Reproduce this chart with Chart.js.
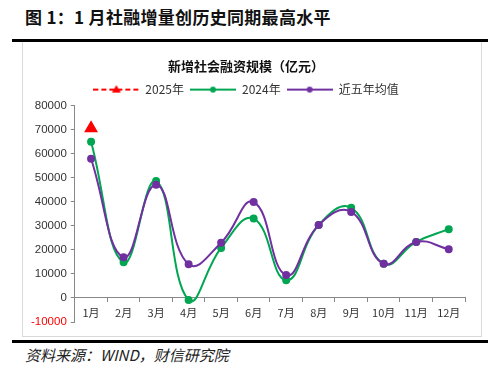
<!DOCTYPE html>
<html>
<head>
<meta charset="utf-8">
<script src="https://cdn.jsdelivr.net/npm/chart.js@4"></script>
<style>
    body { margin: 0; background: #fff; width: 500px; height: 377px; position: relative; overflow: hidden; }
    .fig-title { position: absolute; left: 25px; top: 4px; font: bold 17px "Noto Sans CJK SC", sans-serif; color: #111; letter-spacing: 0.3px; }
    .rule { position: absolute; left: 12px; width: 476px; height: 3px; background: #000; }
    .box { position: absolute; left: 22px; top: 42px; width: 460px; height: 295px; border: 1px solid #d9d9d9; border-top: none; box-sizing: border-box; }
    .source { position: absolute; left: 25px; top: 344px; font: italic 15px "Noto Sans CJK SC", serif; color: #222; }
    #wrap { position: absolute; left: 23px; top: 43px; width: 458px; height: 293px; }
</style>
</head>
<body>
<div class="fig-title">图 1：1 月社融增量创历史同期最高水平</div>
<div class="rule" style="top:39px"></div>
<div class="box"></div>
<div class="rule" style="top:340px"></div>
<div class="source">资料来源：WIND，财信研究院</div>
<div id="wrap"><canvas id="tsfChart"></canvas></div>

<script>
// Data (亿元)
const months = ['1月', '2月', '3月', '4月', '5月', '6月', '7月', '8月', '9月', '10月', '11月', '12月'];
const tsf2025 = [70600, null, null, null, null, null, null, null, null, null, null, null];
const tsf2024 = [65000, 14800, 48600, -800, 20800, 33000, 7400, 30300, 37500, 14200, 23300, 28600];
const avg5y = [57900, 16900, 47100, 14000, 23000, 39900, 9500, 30300, 35800, 14200, 23300, 20300];
const yTicks = [80000, 70000, 60000, 50000, 40000, 30000, 20000, 10000, 0, -10000];

const RED = '#ff0000';
const GREEN = '#00a651';
const PURPLE = '#7030a0';

// small canvas used as legend symbol: line with marker in the middle
function legendSymbol(color, dashed, marker) {
    const c = document.createElement('canvas');
    c.width = 46;
    c.height = 10;
    const ctx = c.getContext('2d');
    ctx.strokeStyle = color;
    ctx.lineWidth = 2;
    if (dashed) ctx.setLineDash([5, 3]);
    ctx.beginPath();
    ctx.moveTo(0, 5);
    ctx.lineTo(46, 5);
    ctx.stroke();
    ctx.fillStyle = color;
    ctx.beginPath();
    if (marker === 'triangle') {
        ctx.moveTo(23, 0.5);
        ctx.lineTo(27.5, 8);
        ctx.lineTo(18.5, 8);
        ctx.closePath();
    } else {
        ctx.arc(23, 5, 3, 0, Math.PI * 2);
    }
    ctx.fill();
    return c;
}

const symbols = [
    legendSymbol(RED, true, 'triangle'),
    legendSymbol(GREEN, false, 'circle'),
    legendSymbol(PURPLE, false, 'circle')
];

new Chart(document.getElementById('tsfChart'), {
    type: 'line',
    data: {
        labels: months,
        datasets: [
            {
                label: '2025年',
                data: tsf2025,
                borderColor: RED,
                backgroundColor: RED,
                borderDash: [5, 3],
                borderWidth: 2,
                pointStyle: 'triangle',
                pointRadius: 6,
                order: 0
            },
            {
                label: '2024年',
                data: tsf2024,
                borderColor: GREEN,
                backgroundColor: GREEN,
                borderWidth: 2,
                pointRadius: 3,
                tension: 0.45,
                order: 2
            },
            {
                label: '近五年均值',
                data: avg5y,
                borderColor: PURPLE,
                backgroundColor: PURPLE,
                borderWidth: 2,
                pointRadius: 3,
                tension: 0.45,
                order: 1
            }
        ]
    },
    options: {
        responsive: true,
        maintainAspectRatio: false,
        animation: false,
        layout: { padding: { left: 4, right: 16, top: 15, bottom: 14 } },
        plugins: {
            title: {
                display: true,
                text: '新增社会融资规模（亿元）',
                color: '#111',
                font: { family: '"Noto Sans CJK SC", sans-serif', size: 13, weight: 'bold' },
                padding: { top: 0, bottom: 4 }
            },
            legend: {
                position: 'top',
                labels: {
                    usePointStyle: true,
                    pointStyleWidth: 46,
                    boxHeight: 10,
                    color: '#333',
                    font: { family: '"Noto Sans CJK SC", sans-serif', size: 12 },
                    padding: 6,
                    generateLabels: function(chart) {
                        return chart.data.datasets.map((ds, i) => ({
                            text: ds.label,
                            pointStyle: symbols[i],
                            fillStyle: ds.borderColor,
                            strokeStyle: ds.borderColor,
                            fontColor: '#333',
                            lineWidth: 0,
                            datasetIndex: i
                        }));
                    }
                }
            },
            tooltip: { enabled: false }
        },
        scales: {
            x: {
                position: { y: 0 },
                offset: true,
                grid: {
                    offset: true,
                    drawOnChartArea: false,
                    tickLength: 4,
                    color: '#888'
                },
                border: { color: '#888', width: 1 },
                ticks: {
                    color: '#333',
                    padding: 4,
                    maxRotation: 0,
                    font: { family: '"Noto Sans CJK SC", sans-serif', size: 11 }
                }
            },
            y: {
                min: -10000,
                max: 80000,
                afterBuildTicks: function(scale) {
                    scale.ticks = yTicks.map(v => ({ value: v }));
                },
                grid: {
                    drawOnChartArea: false,
                    tickLength: 4,
                    color: '#888'
                },
                border: { color: '#888', width: 1 },
                ticks: {
                    padding: 4,
                    callback: v => String(v),
                    color: ctx => (ctx.tick.value < 0 ? RED : '#333'),
                    font: { family: '"Liberation Sans", sans-serif', size: 11.5 }
                }
            }
        }
    }
});
</script>
</body>
</html>
